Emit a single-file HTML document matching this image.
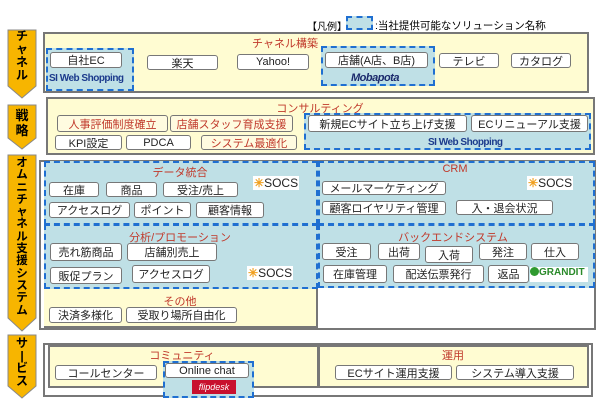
<!DOCTYPE html>
<html><head><meta charset="utf-8"><style>
body{margin:0;width:600px;height:400px;background:#fff;position:relative;overflow:hidden;font-family:"Liberation Sans","Noto Sans CJK JP",sans-serif;}
.a{position:absolute;box-sizing:border-box;}
.bx{position:absolute;box-sizing:border-box;background:#fff;border:1.5px solid #777;border-radius:3px;font-size:11px;color:#222;text-align:center;display:flex;align-items:center;justify-content:center;white-space:nowrap;}
.r{color:#c0392b;background:#fffbe0;}
.t{position:absolute;font-size:11px;color:#c0392b;white-space:nowrap;transform:translateX(-50%);}
.y{position:absolute;box-sizing:border-box;background:#fffcd2;border:2px solid #777;}
.d{position:absolute;box-sizing:border-box;background:#bfe0e6;border:2px dashed #1f6fd1;}
.si{position:absolute;font-size:10px;font-weight:bold;color:#1b3a8c;white-space:nowrap;letter-spacing:-0.5px;}
.socs{position:absolute;font-size:12px;color:#222;background:#fff;padding:0 1px;}
.socs b{color:#f0a020;}
.v{position:absolute;left:10px;width:24px;font-weight:bold;text-align:center;}
</style></head><body>
<svg class="a" style="left:0;top:0" width="40" height="400">
<g fill="#f7b500" stroke="#888" stroke-width="1">
<polygon points="8,30 36,30 36,86 22,98 8,86"/>
<polygon points="8,105 36,105 36,138 22,149 8,138"/>
<polygon points="8,155 36,155 36,318 22,331 8,318"/>
<polygon points="8,335 36,335 36,386 22,398 8,386"/>
</g></svg>
<div class="v" style="top:30px;font-size:12px;line-height:13px">チ<br>ャ<br>ネ<br>ル</div>
<div class="v" style="top:108px;font-size:13px;line-height:15px">戦<br>略</div>
<div class="v" style="top:157px;font-size:11.5px;line-height:12.3px">オ<br>ム<br>ニ<br>チ<br>ャ<br>ネ<br>ル<br>支<br>援<br>シ<br>ス<br>テ<br>ム</div>
<div class="v" style="top:337px;font-size:12px;line-height:12.5px">サ<br>|<br>ビ<br>ス</div>

<div class="a" style="left:307px;top:18px;font-size:10px">【凡例】</div>
<div class="d" style="left:346px;top:16px;width:27px;height:14px"></div>
<div class="a" style="left:375px;top:18px;font-size:10.5px">:当社提供可能なソリューション名称</div>

<!-- channel -->
<div class="y" style="left:43px;top:32px;width:546px;height:61px"></div>
<div class="t" style="left:285px;top:35px">チャネル構築</div>
<div class="d" style="left:46px;top:48px;width:88px;height:43px"></div>
<div class="bx" style="left:50px;top:52px;width:72px;height:16px">自社EC</div>
<div class="si" style="left:49px;top:73px">SI Web Shopping</div>
<div class="bx" style="left:147px;top:55px;width:71px;height:15px">楽天</div>
<div class="bx" style="left:237px;top:54px;width:72px;height:16px">Yahoo!</div>
<div class="d" style="left:321px;top:46px;width:114px;height:40px"></div>
<div class="bx" style="left:325px;top:52px;width:103px;height:16px">店舗(A店、B店)</div>
<div class="si" style="left:375px;top:72px;transform:translateX(-50%);font-size:11px;font-style:italic;color:#1b2a6c">Mobapota</div>
<div class="bx" style="left:439px;top:53px;width:60px;height:15px">テレビ</div>
<div class="bx" style="left:511px;top:53px;width:60px;height:15px">カタログ</div>

<!-- strategy -->
<div class="y" style="left:46px;top:97px;width:549px;height:58px"></div>
<div class="t" style="left:320px;top:100px">コンサルティング</div>
<div class="bx r" style="left:57px;top:115px;width:111px;height:17px">人事評価制度確立</div>
<div class="bx r" style="left:170px;top:115px;width:123px;height:17px">店舗スタッフ育成支援</div>
<div class="bx" style="left:55px;top:135px;width:67px;height:15px">KPI設定</div>
<div class="bx" style="left:126px;top:135px;width:65px;height:15px">PDCA</div>
<div class="bx r" style="left:201px;top:135px;width:96px;height:15px">システム最適化</div>
<div class="d" style="left:304px;top:113px;width:287px;height:37px"></div>
<div class="bx" style="left:308px;top:115px;width:159px;height:17px">新規ECサイト立ち上げ支援</div>
<div class="bx" style="left:471px;top:115px;width:117px;height:17px">ECリニューアル支援</div>
<div class="si" style="left:428px;top:137px">SI Web Shopping</div>

<!-- omni -->
<div class="a" style="left:39px;top:160px;width:557px;height:170px;border:2px solid #777;background:#fff"></div>
<div class="y" style="left:44px;top:288px;width:274px;height:40px;border:none;border-right:2px solid #777;border-bottom:2px solid #777"></div>
<div class="d" style="left:44px;top:161px;width:274px;height:64px"></div>
<div class="d" style="left:318px;top:161px;width:277px;height:64px"></div>
<div class="d" style="left:44px;top:224px;width:274px;height:65px"></div>
<div class="d" style="left:318px;top:224px;width:277px;height:64px"></div>
<div class="t" style="left:180px;top:164px">データ統合</div>
<div class="t" style="left:455px;top:163px">CRM</div>
<div class="t" style="left:180px;top:229px">分析/プロモーション</div>
<div class="t" style="left:453px;top:229px">バックエンドシステム</div>
<div class="t" style="left:180px;top:293px">その他</div>
<div class="bx" style="left:49px;top:182px;width:50px;height:15px">在庫</div>
<div class="bx" style="left:106px;top:182px;width:51px;height:15px">商品</div>
<div class="bx" style="left:163px;top:182px;width:75px;height:15px">受注/売上</div>
<div class="bx" style="left:49px;top:202px;width:81px;height:16px">アクセスログ</div>
<div class="bx" style="left:134px;top:202px;width:57px;height:16px">ポイント</div>
<div class="bx" style="left:196px;top:202px;width:68px;height:16px">顧客情報</div>
<div class="socs" style="left:253px;top:176px"><b>✳</b>SOCS</div>
<div class="bx" style="left:322px;top:181px;width:124px;height:14px">メールマーケティング</div>
<div class="bx" style="left:322px;top:201px;width:124px;height:14px">顧客ロイヤリティ管理</div>
<div class="bx" style="left:456px;top:200px;width:97px;height:15px">入・退会状況</div>
<div class="socs" style="left:527px;top:176px"><b>✳</b>SOCS</div>
<div class="bx" style="left:50px;top:243px;width:72px;height:18px">売れ筋商品</div>
<div class="bx" style="left:127px;top:243px;width:90px;height:18px">店舗別売上</div>
<div class="bx" style="left:50px;top:267px;width:72px;height:17px">販促プラン</div>
<div class="bx" style="left:132px;top:265px;width:78px;height:18px">アクセスログ</div>
<div class="socs" style="left:247px;top:266px"><b>✳</b>SOCS</div>
<div class="bx" style="left:322px;top:243px;width:49px;height:17px">受注</div>
<div class="bx" style="left:378px;top:243px;width:42px;height:17px">出荷</div>
<div class="bx" style="left:425px;top:246px;width:48px;height:17px">入荷</div>
<div class="bx" style="left:479px;top:243px;width:48px;height:17px">発注</div>
<div class="bx" style="left:531px;top:243px;width:48px;height:17px">仕入</div>
<div class="bx" style="left:323px;top:265px;width:64px;height:18px">在庫管理</div>
<div class="bx" style="left:393px;top:265px;width:91px;height:18px">配送伝票発行</div>
<div class="bx" style="left:488px;top:265px;width:41px;height:18px">返品</div>
<div class="a" style="left:530px;top:267px;width:58px;height:15px;background:#fff;font-size:10px;font-weight:bold;color:#2a8a2a;white-space:nowrap"><span style="display:inline-block;width:9px;height:9px;border-radius:50%;background:#2f9a2f;vertical-align:-1px"></span>GRANDIT</div>
<div class="bx" style="left:49px;top:307px;width:73px;height:16px">決済多様化</div>
<div class="bx" style="left:126px;top:307px;width:111px;height:16px">受取り場所自由化</div>

<!-- service -->
<div class="a" style="left:43px;top:343px;width:550px;height:54px;border:2px solid #777;background:#fff"></div>
<div class="y" style="left:48px;top:345px;width:271px;height:43px"></div>
<div class="y" style="left:318px;top:345px;width:271px;height:43px"></div>
<div class="t" style="left:182px;top:347px">コミュニティ</div>
<div class="t" style="left:453px;top:347px">運用</div>
<div class="bx" style="left:55px;top:365px;width:102px;height:15px">コールセンター</div>
<div class="d" style="left:163px;top:361px;width:91px;height:37px"></div>
<div class="bx" style="left:165px;top:363px;width:84px;height:15px">Online chat</div>
<div class="a" style="left:192px;top:380px;width:44px;height:14px;background:#c8102e;color:#fff;font-size:9px;font-style:italic;text-align:center;line-height:14px">flipdesk</div>
<div class="bx" style="left:335px;top:365px;width:117px;height:15px">ECサイト運用支援</div>
<div class="bx" style="left:456px;top:365px;width:118px;height:15px">システム導入支援</div>
</body></html>
